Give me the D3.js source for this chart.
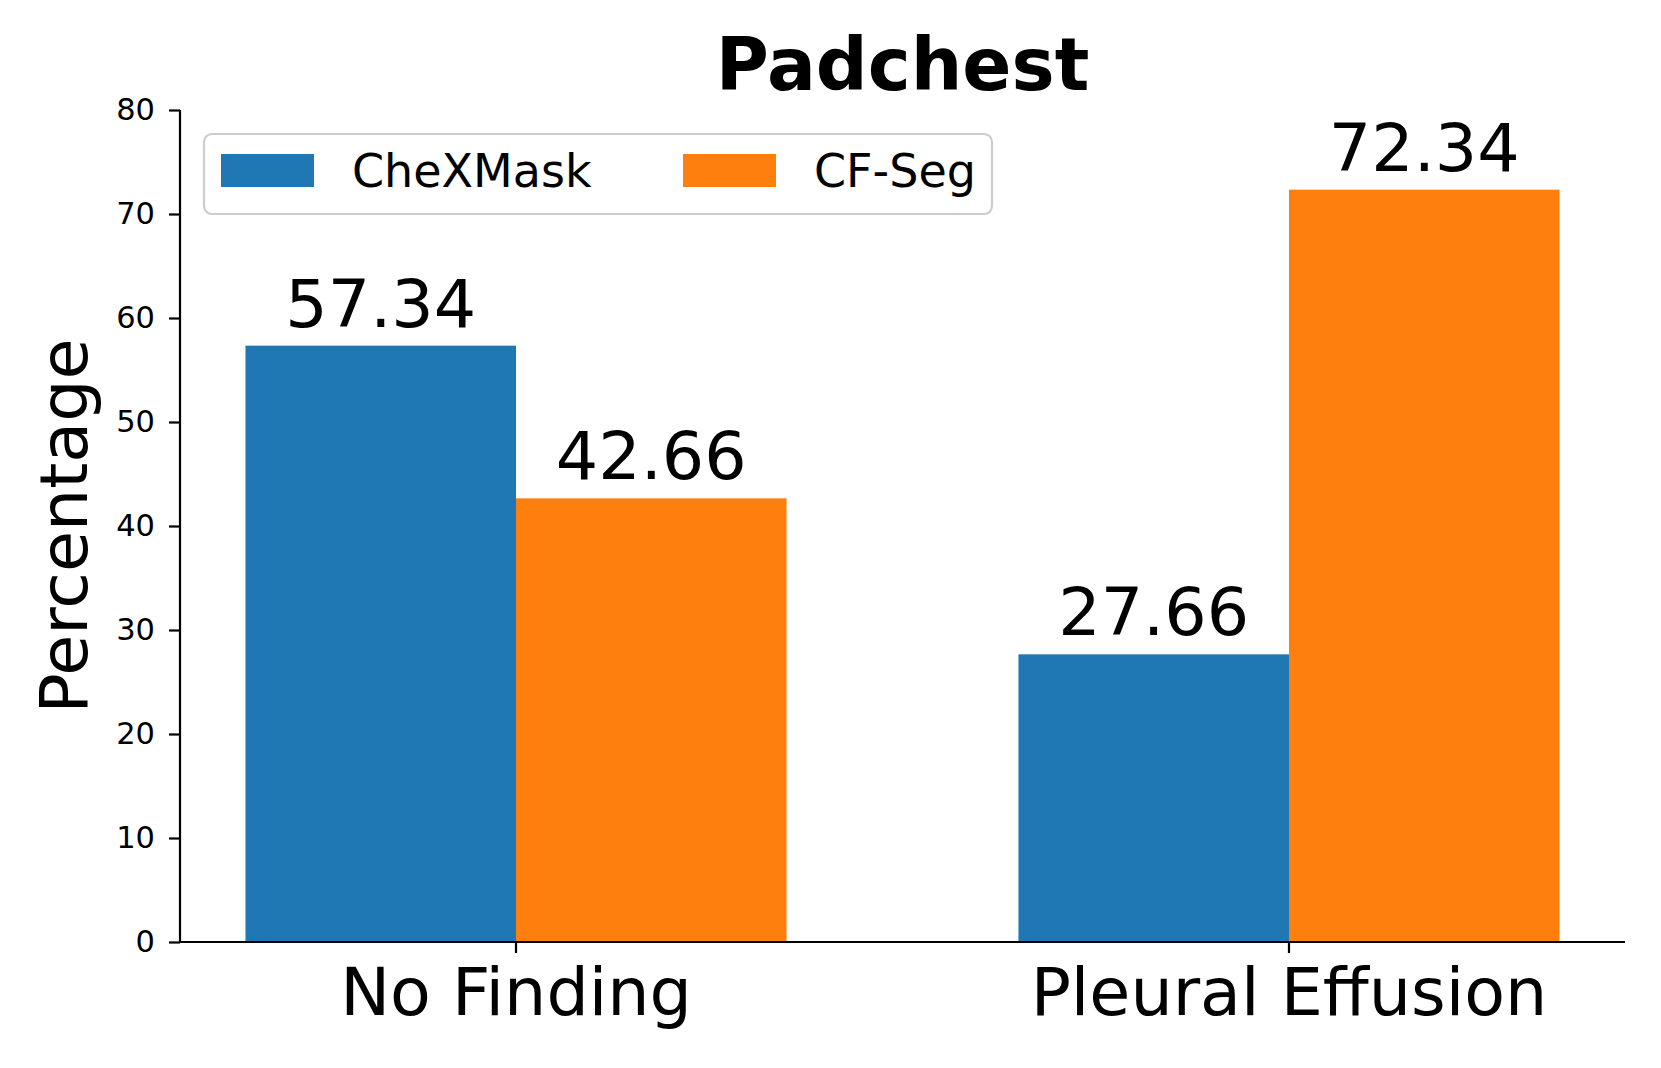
<!DOCTYPE html>
<html>
<head>
<meta charset="utf-8">
<script src="https://cdn.jsdelivr.net/npm/d3@7"></script>
<style>
  html, body { margin: 0; padding: 0; background: #fff; }
  svg { display: block; font-family: "DejaVu Sans", sans-serif; }
</style>
</head>
<body>
<svg id="chart" width="1661" height="1068"></svg>
<script>
const categories = ["No Finding", "Pleural Effusion"];
const seriesNames = ["CheXMask", "CF-Seg"];
const cheXMaskValues = [57.34, 27.66];
const cfSegValues = [42.66, 72.34];
const yTicks = [0, 10, 20, 30, 40, 50, 60, 70, 80];
const colors = ["#1f77b4", "#ff7f0e"];

const seriesValues = [cheXMaskValues, cfSegValues];

const svg = d3.select("#chart");
const W = 1661, H = 1068;
svg.append("rect").attr("width", W).attr("height", H).attr("fill", "#fff");

const plotLeft = 180, plotRight = 1625, plotTop = 110, plotBottom = 942;

const x0 = d3.scaleBand().domain(categories).range([plotLeft, plotRight])
  .paddingInner(0.3).paddingOuter(0.0847);
const x1 = d3.scaleBand().domain(seriesNames).range([0, x0.bandwidth()]).padding(0);
const y = d3.scaleLinear().domain([0, 80]).range([plotBottom, plotTop]);

// Bars
const groups = svg.append("g").selectAll("g")
  .data(categories).join("g")
  .attr("transform", d => `translate(${x0(d)},0)`);

groups.selectAll("rect")
  .data((c, i) => seriesNames.map((s, j) => ({ s, j, v: seriesValues[j][i] })))
  .join("rect")
  .attr("x", d => x1(d.s))
  .attr("y", d => y(d.v))
  .attr("width", x1.bandwidth())
  .attr("height", d => y(0) - y(d.v))
  .attr("fill", d => colors[d.j]);

// Value labels
groups.selectAll("text.val")
  .data((c, i) => seriesNames.map((s, j) => ({ s, j, v: seriesValues[j][i] })))
  .join("text")
  .attr("class", "val")
  .attr("x", d => x1(d.s) + x1.bandwidth() / 2)
  .attr("y", d => y(d.v) - 19)
  .attr("text-anchor", "middle")
  .attr("font-size", 66.7)
  .attr("fill", "#000")
  .text(d => d.v.toFixed(2));

// Y axis
const yAxis = d3.axisLeft(y).tickValues(yTicks).tickSize(11).tickPadding(14);
const yg = svg.append("g").attr("transform", `translate(${plotLeft},0)`).call(yAxis);
yg.select(".domain").attr("stroke", "#000").attr("stroke-width", 2.2)
  .attr("d", `M0,${plotTop}V${plotBottom}`);
yg.selectAll(".tick line").attr("stroke", "#000").attr("stroke-width", 2.2);
yg.selectAll(".tick text").attr("font-size", 30.5).attr("fill", "#000")
  .attr("font-family", "DejaVu Sans");

// X axis
const xAxis = d3.axisBottom(x0).tickSize(11).tickPadding(20);
const xg = svg.append("g").attr("transform", `translate(0,${plotBottom})`).call(xAxis);
xg.select(".domain").attr("stroke", "#000").attr("stroke-width", 2.2)
  .attr("d", `M${plotLeft},0H${plotRight}`);
xg.selectAll(".tick line").attr("stroke", "#000").attr("stroke-width", 2.2);
xg.selectAll(".tick text").attr("font-size", 66.7).attr("fill", "#000")
  .attr("font-family", "DejaVu Sans")
  .attr("dy", null).attr("y", 73);

// Y label
svg.append("text")
  .attr("transform", `translate(87,${(plotTop + plotBottom) / 2}) rotate(-90)`)
  .attr("text-anchor", "middle")
  .attr("font-size", 66.7)
  .attr("fill", "#000")
  .text("Percentage");

// Title
svg.append("text")
  .attr("x", (plotLeft + plotRight) / 2)
  .attr("y", 90)
  .attr("text-anchor", "middle")
  .attr("font-size", 72.5)
  .attr("font-weight", "bold")
  .attr("fill", "#000")
  .text("Padchest");

// Legend
const lg = svg.append("g");
lg.append("rect")
  .attr("x", 204).attr("y", 134).attr("width", 788).attr("height", 80)
  .attr("rx", 8).attr("ry", 8)
  .attr("fill", "#fff").attr("fill-opacity", 0.8)
  .attr("stroke", "#cccccc").attr("stroke-width", 2.2);
const legendX = [221, 683];
seriesNames.forEach((s, j) => {
  lg.append("rect")
    .attr("x", legendX[j]).attr("y", 154)
    .attr("width", 93).attr("height", 33)
    .attr("fill", colors[j]);
  lg.append("text")
    .attr("x", legendX[j] + 131).attr("y", 187)
    .attr("font-size", 46)
    .attr("fill", "#000")
    .text(s);
});
</script>
</body>
</html>
